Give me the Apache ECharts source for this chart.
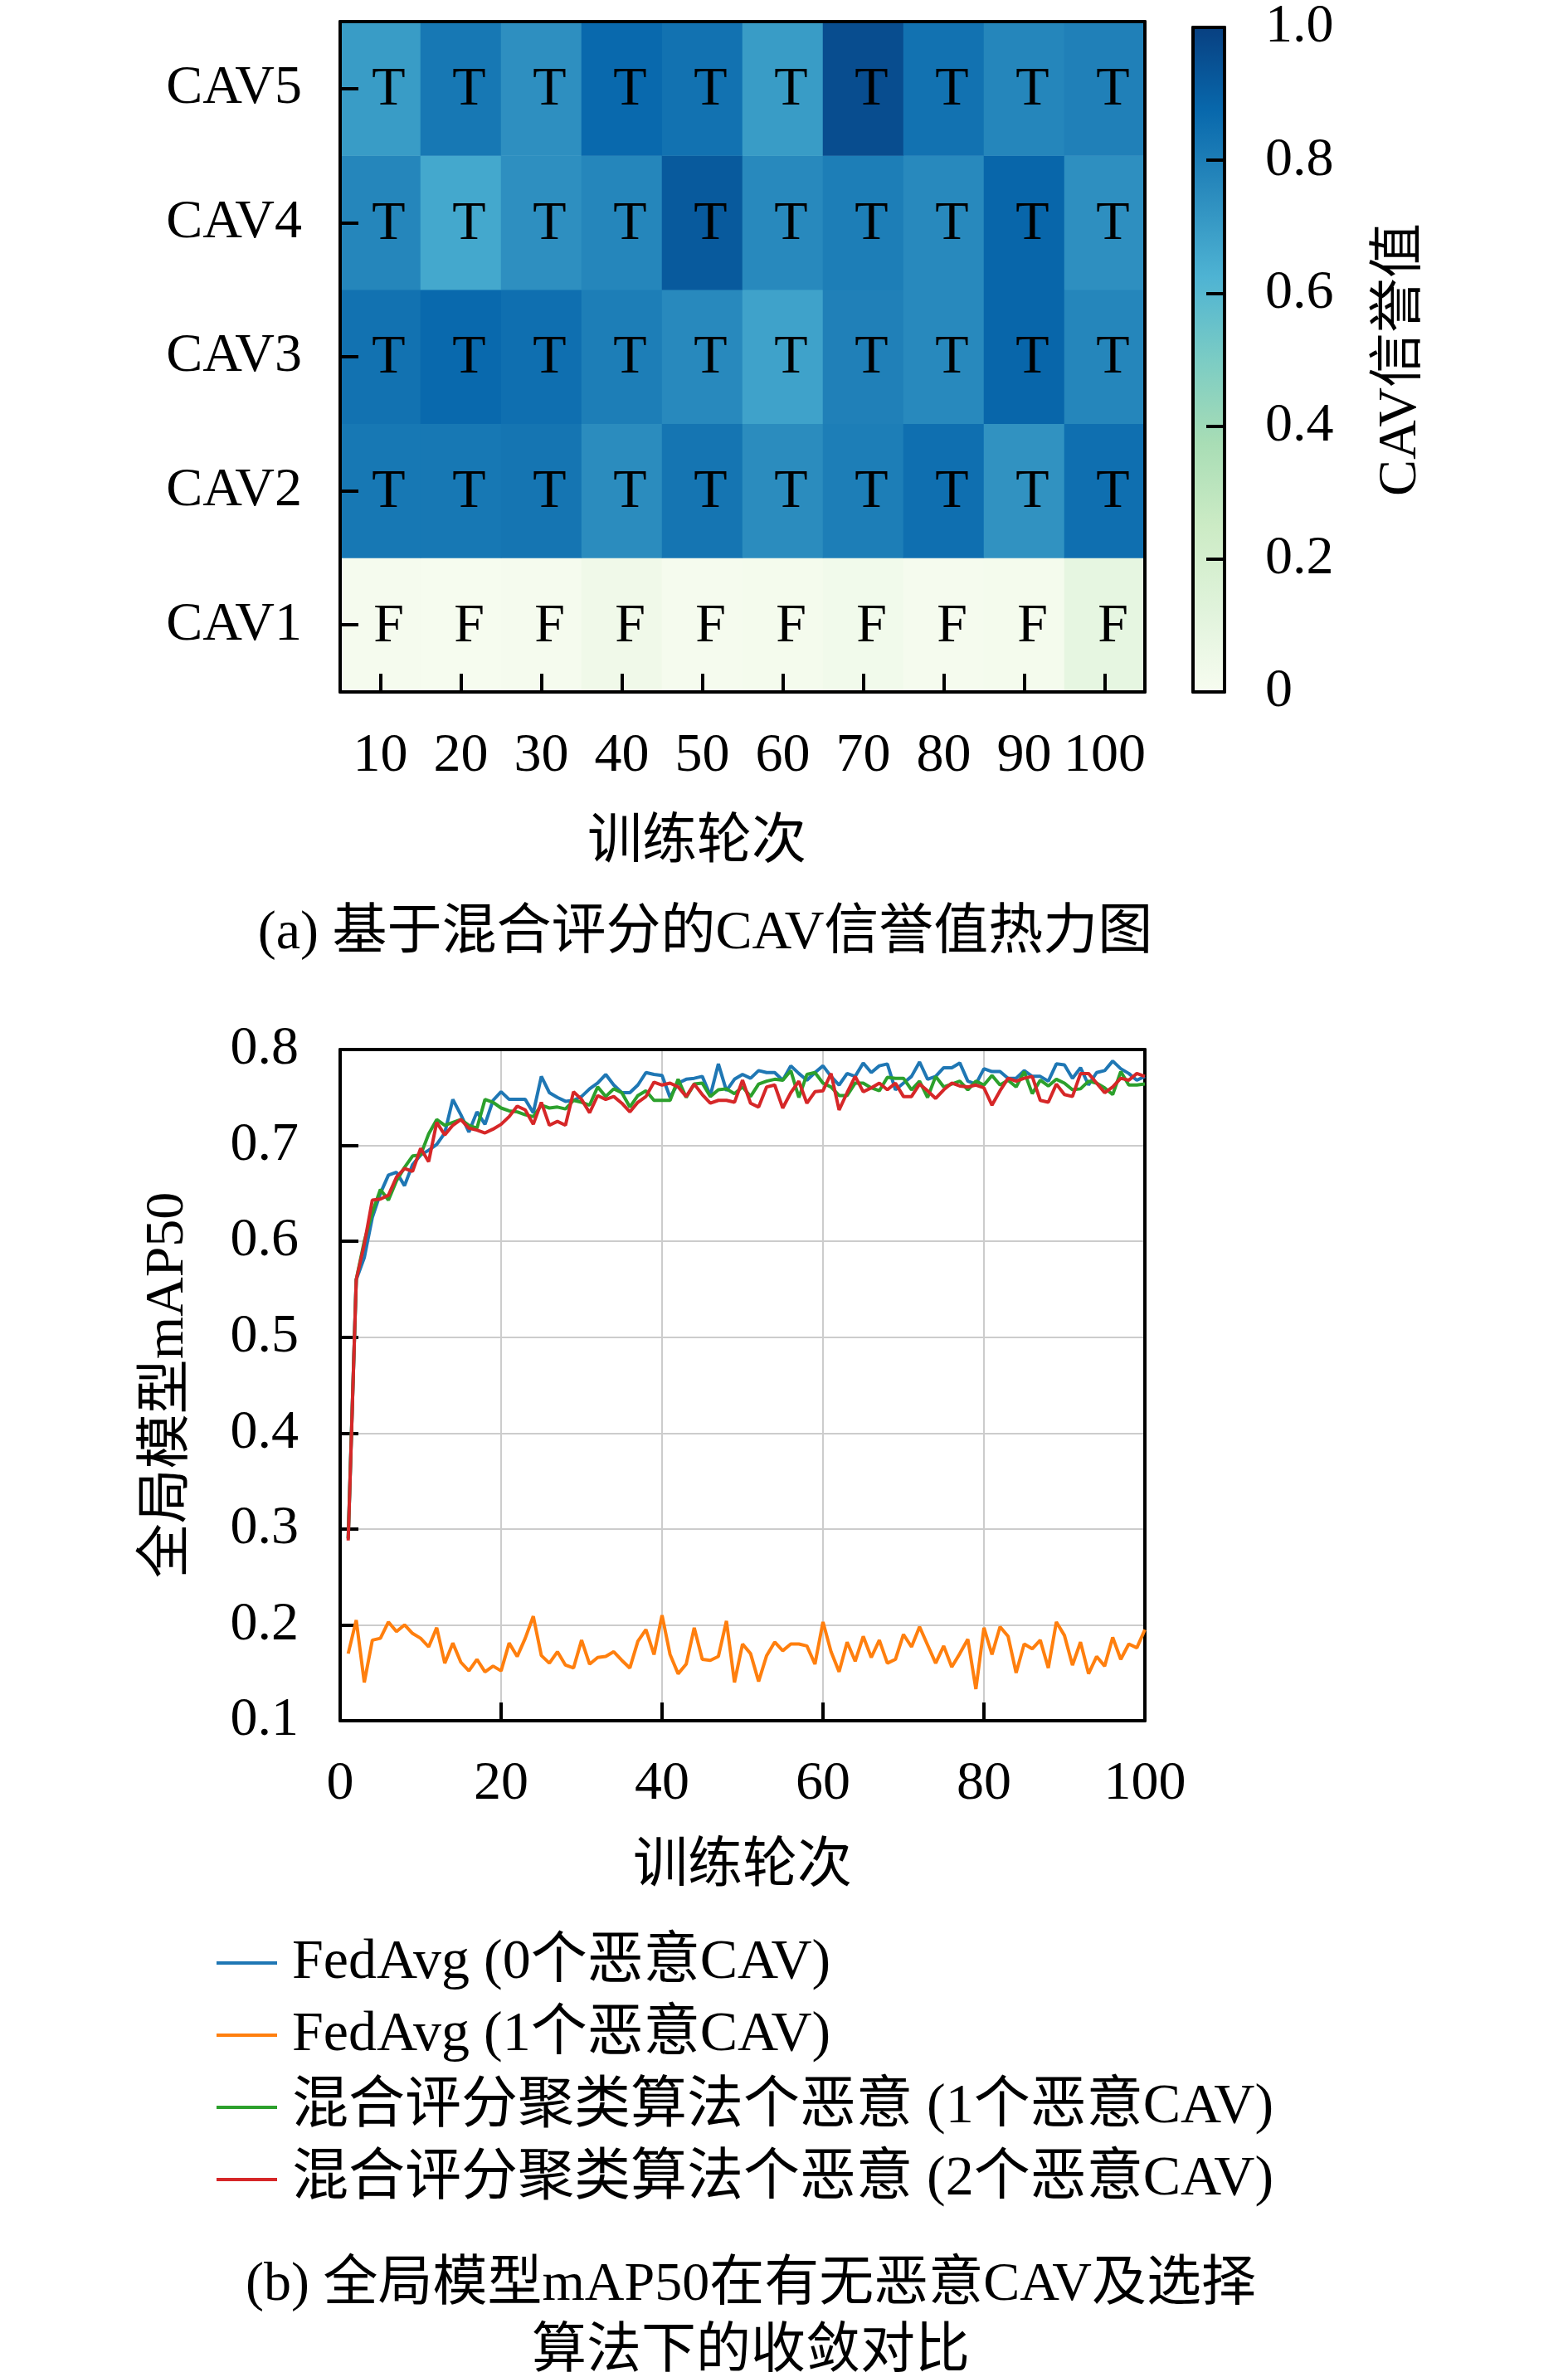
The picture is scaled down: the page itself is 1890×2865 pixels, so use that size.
<!DOCTYPE html>
<html>
<head>
<meta charset="utf-8">
<script src="https://cdn.jsdelivr.net/npm/echarts@6/dist/echarts.min.js"></script>
<style>
  html, body { margin: 0; padding: 0; background: #fff; }
  #main { width: 1890px; height: 2865px; }
</style>
</head>
<body>
<div id="main"></div>
<script>
var FONT = "'Liberation Serif', 'Noto Sans CJK SC', serif";

// heatmap data
var rounds = ["10", "20", "30", "40", "50", "60", "70", "80", "90", "100"];
var cavNames = ["CAV1", "CAV2", "CAV3", "CAV4", "CAV5"];
var cav1 = [0.01, 0.005, 0.01, 0.04, 0.01, 0.015, 0.03, 0.01, 0.015, 0.09];
var cav2 = [0.82, 0.82, 0.83, 0.75, 0.83, 0.75, 0.80, 0.85, 0.73, 0.85];
var cav3 = [0.84, 0.87, 0.85, 0.80, 0.76, 0.68, 0.79, 0.76, 0.88, 0.77];
var cav4 = [0.77, 0.66, 0.74, 0.77, 0.92, 0.76, 0.80, 0.76, 0.88, 0.74];
var cav5 = [0.70, 0.82, 0.74, 0.87, 0.84, 0.70, 0.96, 0.84, 0.77, 0.79];
var tf1 = ["F", "F", "F", "F", "F", "F", "F", "F", "F", "F"];
var tf2 = ["T", "T", "T", "T", "T", "T", "T", "T", "T", "T"];
var tf3 = ["T", "T", "T", "T", "T", "T", "T", "T", "T", "T"];
var tf4 = ["T", "T", "T", "T", "T", "T", "T", "T", "T", "T"];
var tf5 = ["T", "T", "T", "T", "T", "T", "T", "T", "T", "T"];
var gnbu = ["#f7fcf0", "#e0f3db", "#ccebc5", "#a8ddb5", "#7bccc4", "#4eb3d3", "#2b8cbe", "#0868ac", "#084081"];

// line chart data (round 1..100)
var fedavg0 = [0.290, 0.560, 0.583, 0.625, 0.650, 0.669, 0.672, 0.658, 0.680, 0.690,
  0.695, 0.701, 0.713, 0.748, 0.732, 0.714, 0.735, 0.722, 0.747, 0.756,
  0.748, 0.748, 0.748, 0.734, 0.772, 0.755, 0.750, 0.746, 0.747, 0.751,
  0.759, 0.765, 0.774, 0.763, 0.755, 0.755, 0.763, 0.776, 0.774, 0.773,
  0.750, 0.765, 0.769, 0.770, 0.772, 0.752, 0.785, 0.757, 0.769, 0.774,
  0.770, 0.778, 0.776, 0.776, 0.768, 0.783, 0.775, 0.768, 0.776, 0.783,
  0.772, 0.763, 0.775, 0.772, 0.786, 0.776, 0.783, 0.785, 0.758, 0.765,
  0.772, 0.787, 0.769, 0.772, 0.781, 0.781, 0.786, 0.767, 0.764, 0.780,
  0.777, 0.777, 0.770, 0.770, 0.778, 0.772, 0.772, 0.767, 0.785, 0.784,
  0.770, 0.781, 0.763, 0.776, 0.778, 0.788, 0.780, 0.775, 0.768, 0.772];
var fedavg1 = [0.170, 0.205, 0.140, 0.184, 0.186, 0.203, 0.193, 0.200, 0.191, 0.186,
  0.177, 0.197, 0.160, 0.181, 0.161, 0.152, 0.164, 0.151, 0.157, 0.152,
  0.181, 0.167, 0.186, 0.209, 0.168, 0.160, 0.172, 0.158, 0.155, 0.184,
  0.159, 0.166, 0.167, 0.172, 0.163, 0.155, 0.183, 0.195, 0.169, 0.210,
  0.169, 0.149, 0.159, 0.197, 0.164, 0.163, 0.167, 0.204, 0.140, 0.180,
  0.170, 0.141, 0.168, 0.182, 0.173, 0.180, 0.180, 0.178, 0.159, 0.203,
  0.172, 0.151, 0.182, 0.162, 0.188, 0.166, 0.184, 0.160, 0.164, 0.190,
  0.177, 0.198, 0.179, 0.160, 0.178, 0.156, 0.170, 0.185, 0.133, 0.197,
  0.169, 0.198, 0.188, 0.150, 0.180, 0.175, 0.184, 0.155, 0.203, 0.189,
  0.158, 0.182, 0.149, 0.167, 0.157, 0.187, 0.164, 0.180, 0.176, 0.195];
var hybrid1 = [0.290, 0.560, 0.600, 0.630, 0.654, 0.643, 0.663, 0.677, 0.689, 0.690,
  0.712, 0.727, 0.721, 0.724, 0.727, 0.721, 0.718, 0.748, 0.745, 0.739,
  0.736, 0.735, 0.732, 0.730, 0.742, 0.739, 0.740, 0.738, 0.747, 0.745,
  0.742, 0.761, 0.751, 0.759, 0.755, 0.740, 0.752, 0.757, 0.747, 0.747,
  0.747, 0.769, 0.750, 0.764, 0.765, 0.751, 0.758, 0.759, 0.754, 0.761,
  0.751, 0.764, 0.767, 0.769, 0.768, 0.778, 0.750, 0.774, 0.776, 0.765,
  0.761, 0.752, 0.752, 0.765, 0.765, 0.760, 0.757, 0.771, 0.770, 0.770,
  0.758, 0.767, 0.750, 0.772, 0.761, 0.764, 0.767, 0.758, 0.767, 0.763,
  0.773, 0.763, 0.768, 0.761, 0.777, 0.754, 0.768, 0.762, 0.769, 0.765,
  0.758, 0.759, 0.767, 0.765, 0.760, 0.753, 0.777, 0.763, 0.763, 0.764];
var hybrid2 = [0.288, 0.560, 0.597, 0.643, 0.644, 0.648, 0.667, 0.676, 0.673, 0.697,
  0.683, 0.724, 0.711, 0.721, 0.727, 0.718, 0.716, 0.713, 0.717, 0.722,
  0.730, 0.741, 0.737, 0.722, 0.745, 0.721, 0.725, 0.721, 0.756, 0.748,
  0.734, 0.752, 0.748, 0.751, 0.744, 0.735, 0.745, 0.751, 0.766, 0.763,
  0.765, 0.761, 0.751, 0.764, 0.753, 0.744, 0.747, 0.747, 0.745, 0.768,
  0.744, 0.740, 0.761, 0.763, 0.739, 0.755, 0.767, 0.744, 0.756, 0.757,
  0.775, 0.737, 0.755, 0.772, 0.756, 0.760, 0.765, 0.758, 0.765, 0.751,
  0.751, 0.764, 0.757, 0.749, 0.758, 0.765, 0.762, 0.761, 0.763, 0.760,
  0.742, 0.757, 0.770, 0.767, 0.770, 0.772, 0.747, 0.745, 0.764, 0.753,
  0.751, 0.775, 0.775, 0.765, 0.755, 0.761, 0.770, 0.768, 0.775, 0.772];
var seriesNames = ["FedAvg (0个恶意CAV)", "FedAvg (1个恶意CAV)",
  "混合评分聚类算法个恶意 (1个恶意CAV)", "混合评分聚类算法个恶意 (2个恶意CAV)"];
var lineColors = ["#1f77b4", "#ff7f0e", "#2ca02c", "#d62728"];

var heatRows = [cav1, cav2, cav3, cav4, cav5];
var tfRows = [tf1, tf2, tf3, tf4, tf5];
var heatData = [];
heatRows.forEach(function (row, yi) {
  row.forEach(function (v, xi) { heatData.push([xi, yi, v]); });
});
function pairs(arr) {
  return arr.map(function (v, i) { return [i + 1, v]; });
}

var chart = echarts.init(document.getElementById("main"), null, { renderer: "canvas" });

// colour bar fill: same GnBu stops, top = 1, bottom = 0
var barStops = gnbu.map(function (c, i) {
  return { offset: 1 - i / (gnbu.length - 1), color: c };
}).reverse();

function frameAxis(grid, pos) {
  return {
    gridIndex: grid, position: pos, type: "value", min: 0, max: 1,
    axisLine: { show: true, onZero: false, lineStyle: { color: "#000", width: 4 } },
    axisTick: { show: false }, axisLabel: { show: false }, splitLine: { show: false }
  };
}
var txt = { fontFamily: FONT, fontSize: 66, color: "#000" };

var option = {
  backgroundColor: "#fff",
  animation: false,
  textStyle: { fontFamily: FONT },
  title: [
    { text: "(a) 基于混合评分的CAV信誉值热力图", left: 845, top: 1088, textAlign: "center",
      textStyle: { fontFamily: FONT, fontSize: 66, fontWeight: "normal", color: "#000" } },
    { text: "(b) 全局模型mAP50在有无恶意CAV及选择", left: 900, top: 2717, textAlign: "center",
      textStyle: { fontFamily: FONT, fontSize: 66, fontWeight: "normal", color: "#000" } },
    { text: "算法下的收敛对比", left: 900, top: 2798, textAlign: "center",
      textStyle: { fontFamily: FONT, fontSize: 66, fontWeight: "normal", color: "#000" } }
  ],
  grid: [
    { left: 410, top: 26, width: 970, height: 808 },
    { left: 1438, top: 26, width: 38, height: 808, show: true, borderWidth: 0,
      backgroundColor: new echarts.graphic.LinearGradient(0, 0, 0, 1, barStops) },
    { left: 410, top: 1265, width: 970, height: 809 }
  ],
  visualMap: {
    type: "continuous", seriesIndex: 0, min: 0, max: 1, show: false,
    inRange: { color: gnbu }
  },
  xAxis: [
    { gridIndex: 0, type: "category", data: rounds, position: "bottom", z: 5,
      axisLine: { show: true, lineStyle: { color: "#000", width: 4 } },
      axisTick: { show: true, inside: true, alignWithLabel: true, length: 22, lineStyle: { color: "#000", width: 4 } },
      axisLabel: Object.assign({ margin: 45, interval: 0 }, txt),
      splitLine: { show: false },
      name: "训练轮次", nameLocation: "middle", nameGap: 150,
      nameTextStyle: { fontFamily: FONT, fontSize: 66, color: "#000", padding: [0, 110, 0, 0] } },
    Object.assign(frameAxis(0, "top"), { z: 5 }),
    Object.assign(frameAxis(1, "bottom"), { z: 10 }),
    Object.assign(frameAxis(1, "top"), { z: 10 }),
    { gridIndex: 2, type: "value", min: 0, max: 100, interval: 20, position: "bottom",
      axisLine: { show: true, onZero: false, lineStyle: { color: "#000", width: 4 } },
      axisTick: { show: true, inside: true, length: 22, lineStyle: { color: "#000", width: 4 } },
      axisLabel: Object.assign({ margin: 44 }, txt),
      splitLine: { show: true, lineStyle: { color: "#cccccc", width: 2 } },
      name: "训练轮次", nameLocation: "middle", nameGap: 144,
      nameTextStyle: { fontFamily: FONT, fontSize: 66, color: "#000" } },
    frameAxis(2, "top")
  ],
  yAxis: [
    { gridIndex: 0, type: "category", data: cavNames, position: "left", z: 5,
      axisLine: { show: true, lineStyle: { color: "#000", width: 4 } },
      axisTick: { show: true, inside: true, alignWithLabel: true, length: 22, lineStyle: { color: "#000", width: 4 } },
      axisLabel: Object.assign({ margin: 46, padding: [26, 0, 0, 0] }, txt),
      splitLine: { show: false } },
    Object.assign(frameAxis(0, "right"), { z: 5 }),
    Object.assign(frameAxis(1, "left"), { z: 10 }),
    { gridIndex: 1, type: "value", min: 0, max: 1, interval: 0.2, position: "right", z: 10,
      axisLine: { show: true, onZero: false, lineStyle: { color: "#000", width: 4 } },
      axisTick: { show: true, inside: true, length: 22, lineStyle: { color: "#000", width: 4 } },
      axisLabel: Object.assign({ margin: 49, formatter: function (v) { return v === 0 ? "0" : v.toFixed(1); } }, txt),
      splitLine: { show: false },
      name: "CAV信誉值", nameLocation: "middle", nameGap: 180, nameRotate: 90,
      nameTextStyle: { fontFamily: FONT, fontSize: 66, color: "#000" } },
    { gridIndex: 2, type: "value", min: 0.1, max: 0.8, interval: 0.1, position: "left",
      axisLine: { show: true, onZero: false, lineStyle: { color: "#000", width: 4 } },
      axisTick: { show: true, inside: true, length: 22, lineStyle: { color: "#000", width: 4 } },
      axisLabel: Object.assign({ margin: 50, padding: [6, 0, 0, 0], formatter: function (v) { return v.toFixed(1); } }, txt),
      splitLine: { show: true, lineStyle: { color: "#cccccc", width: 2 } },
      name: "全局模型mAP50", nameLocation: "middle", nameGap: 174, nameRotate: 90,
      nameTextStyle: { fontFamily: FONT, fontSize: 66, color: "#000" } },
    frameAxis(2, "right")
  ],
  legend: {
    orient: "vertical", left: 256, top: 2326,
    itemWidth: 73, itemHeight: 4, itemGap: 17, icon: "rect",
    textStyle: { fontFamily: FONT, fontSize: 68, color: "#000", lineHeight: 70, padding: [0, 0, 0, 13] },
    data: seriesNames
  },
  series: [
    { type: "heatmap", xAxisIndex: 0, yAxisIndex: 0, data: heatData,
      label: { show: true, fontFamily: FONT, fontSize: 66, color: "#000", offset: [10, 2],
        formatter: function (p) { return tfRows[p.data[1]][p.data[0]]; } },
      emphasis: { disabled: true } },
    { type: "line", name: seriesNames[0], xAxisIndex: 4, yAxisIndex: 4, data: pairs(fedavg0),
      showSymbol: false, lineStyle: { width: 4, color: lineColors[0] }, itemStyle: { color: lineColors[0] } },
    { type: "line", name: seriesNames[1], xAxisIndex: 4, yAxisIndex: 4, data: pairs(fedavg1),
      showSymbol: false, lineStyle: { width: 4, color: lineColors[1] }, itemStyle: { color: lineColors[1] } },
    { type: "line", name: seriesNames[2], xAxisIndex: 4, yAxisIndex: 4, data: pairs(hybrid1),
      showSymbol: false, lineStyle: { width: 4, color: lineColors[2] }, itemStyle: { color: lineColors[2] } },
    { type: "line", name: seriesNames[3], xAxisIndex: 4, yAxisIndex: 4, data: pairs(hybrid2),
      showSymbol: false, lineStyle: { width: 4, color: lineColors[3] }, itemStyle: { color: lineColors[3] } }
  ]
};
chart.setOption(option);
</script>
</body>
</html>
